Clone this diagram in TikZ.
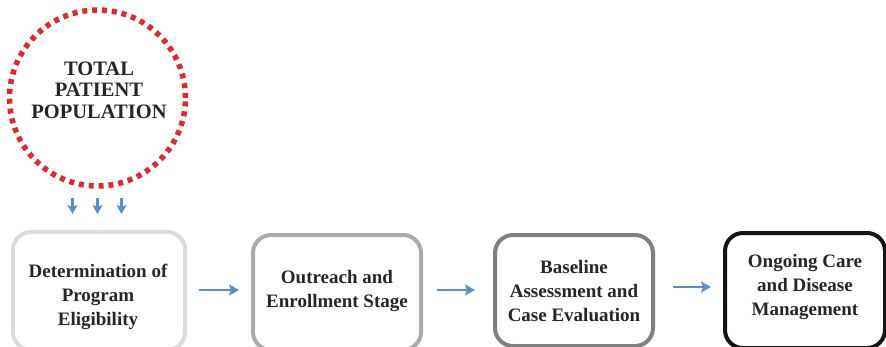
\documentclass[tikz,border=0pt]{standalone}
\usepackage{fontspec}
\newfontfamily\diafont{Liberation Serif}
\usetikzlibrary{arrows.meta}
\definecolor{dotred}{HTML}{E5262B}
\definecolor{flowblue}{HTML}{5A8FCB}
\definecolor{txt}{HTML}{262626}
\tikzset{
  stagebox/.style={draw, rounded corners=18pt, line width=4pt, inner sep=0pt},
  stagetext/.style={align=center, text=txt, font=\diafont\bfseries\fontsize{19}{24}\selectfont, inner sep=0pt},
  flow/.style={draw=flowblue, line width=2.6pt, -{Stealth[length=10pt,width=11pt,inset=2pt]}},
  smallflow/.style={draw=flowblue, line width=2.6pt, -{Stealth[length=9pt,width=10pt,inset=2pt]}}
}
\begin{document}
\begin{tikzpicture}[x=1pt,y=-1pt]
\useasboundingbox (0,0) rectangle (886,346);
\clip (0,0) rectangle (886,346);
\fill[white] (0,0) rectangle (886,346);
\node[circle, minimum size=176pt, inner sep=0pt, draw=dotred, line width=5.5pt,
  dash pattern=on 5pt off 4.9pt] (c) at (97.5,98) {};
\node[align=center, text=txt, inner sep=0pt,
  font=\diafont\bfseries\fontsize{20.5}{21.5}\selectfont] (ct) at (99,90) {TOTAL\\PATIENT\\POPULATION};
\node[stagebox, draw=black!14, minimum width=172pt, minimum height=118pt] (b1) at (99,291) {};
\node[stagetext] (t1) at (98,297) {Determination of\\Program\\Eligibility};
\node[stagebox, draw=black!33, minimum width=168pt, minimum height=115pt] (b2) at (337,292.5) {};
\node[stagetext] (t2) at (337,291) {Outreach and\\Enrollment Stage};
\node[stagebox, draw=black!50, minimum width=158pt, minimum height=111pt] (b3) at (574,290.5) {};
\node[stagetext] (t3) at (574,291) {Baseline\\Assessment and\\Case Evaluation};
\node[stagebox, draw=black!92, minimum width=160pt, minimum height=115pt] (b4) at (805,290.5) {};
\node[stagetext] (t4) at (805,287) {Ongoing Care\\and Disease\\Management};
\foreach \dx in {-25,0,24}
  \draw[smallflow, shorten <=9pt, shorten >=16pt] ([xshift=\dx pt]c.south) -- ([xshift=\dx pt]c.south |- b1.north);
\draw[flow, shorten <=12pt, shorten >=12pt] ([yshift=1pt]b1.east) -- ([yshift=1pt]b1.east -| b2.west);
\draw[flow, shorten <=14pt, shorten >=18pt] ([yshift=1pt]b2.east |- b1.east) -- ([yshift=1pt]b1.east -| b3.west);
\draw[flow, shorten <=18pt, shorten >=12pt] ([yshift=3.5pt]b3.east) -- ([yshift=3.5pt]b3.east -| b4.west);
\end{tikzpicture}
\end{document}
